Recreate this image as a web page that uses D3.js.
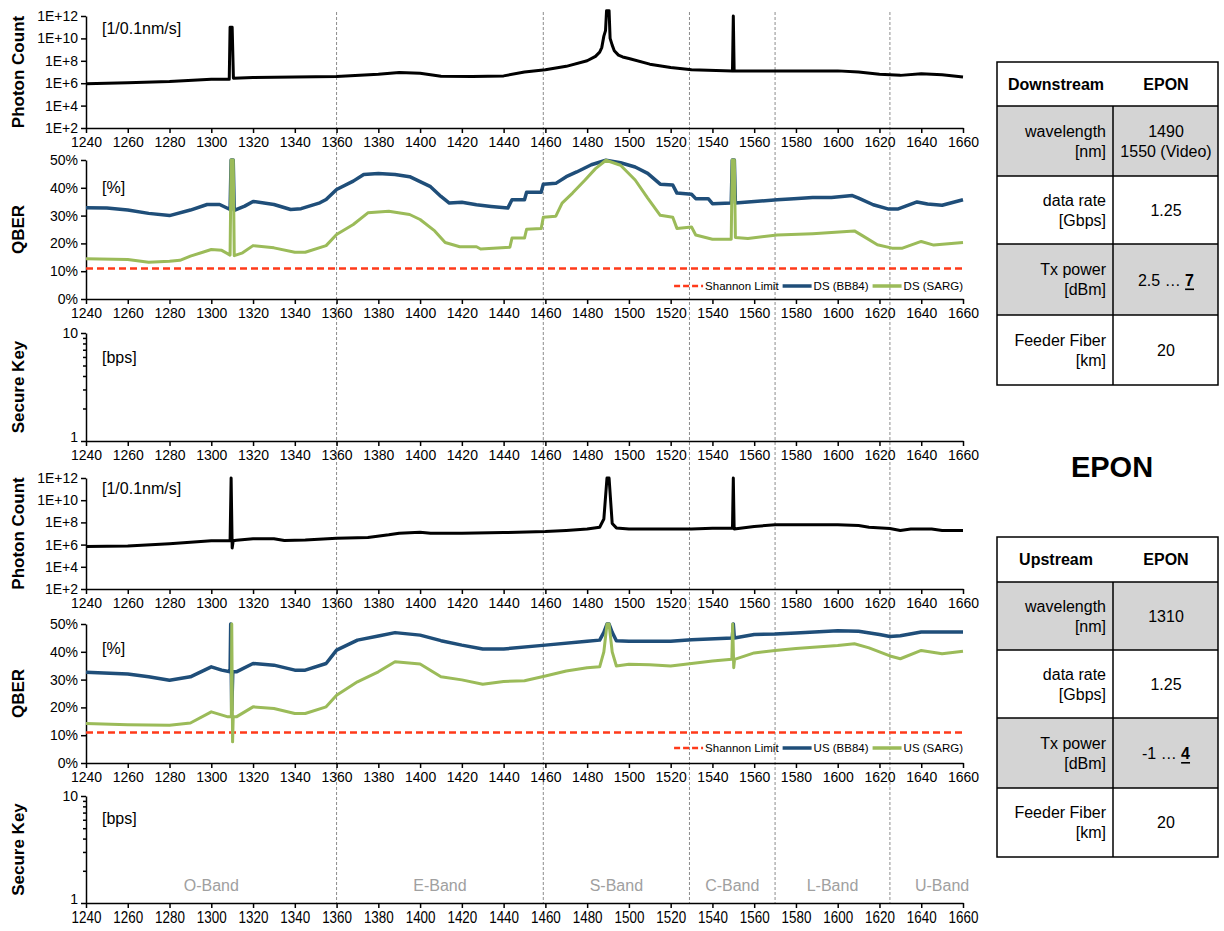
<!DOCTYPE html>
<html>
<head>
<meta charset="utf-8">
<script src="https://cdn.jsdelivr.net/npm/d3@7"></script>
<style>
  body { margin: 0; background: #fff; }
  svg text { font-family: "Liberation Sans", Arial, sans-serif; }
  .axis path, .axis line { stroke: #000; stroke-width: 1.5; }
  .axis text { font-size: 14px; fill: #000; }
</style>
</head>
<body>
<div id="chart"></div>
<script>
// wavelength axis, bands
var wlTicks = d3.range(1240, 1661, 20);
var bandEdges = [1240, 1360, 1459, 1529, 1570, 1625, 1675];
var bandNames = ["O-Band", "E-Band", "S-Band", "C-Band", "L-Band", "U-Band"];
var bandLines = [1360, 1459, 1529, 1570, 1625];
var shannonLimit = 11;

// photon count, downstream [wavelength, count]
var dsPhoton = [[1240, 9.1e5], [1260, 1.1e6], [1280, 1.4e6], [1300, 2.2e6], [1308.6, 2.2e6], [1309, 1e11],
  [1310, 1e11], [1310.6, 2.8e6], [1320, 3.2e6], [1340, 3.5e6], [1360, 4e6], [1380, 6.3e6], [1390, 8.9e6],
  [1400, 7.9e6], [1410, 4.2e6], [1425, 4e6], [1440, 4.5e6], [1450, 1e7], [1460, 1.6e7], [1470, 3.2e7],
  [1480, 1e8], [1484, 2.5e8], [1486, 6e8], [1487, 1.5e9], [1488, 1.6e10], [1488.8, 5e10], [1489.3, 3e12],
  [1490.5, 3e12], [1491, 1e10], [1492, 2.5e9], [1493, 8e8], [1495, 3.2e8], [1497, 2.2e8],
  [1500, 1.6e8], [1510, 5e7], [1520, 2.5e7], [1530, 1.6e7], [1549.6, 1.26e7], [1550, 1e12], [1550.4, 1.26e7],
  [1600, 1.26e7], [1610, 1e7], [1620, 6.3e6], [1630, 5e6], [1640, 7e6], [1650, 5.6e6], [1660, 3.5e6]];

// photon count, upstream
var usPhoton = [[1240, 6.8e5], [1260, 7.6e5], [1280, 1.2e6], [1300, 2.2e6], [1309, 2.2e6], [1309.5, 1e12],
  [1310, 5e5], [1310.5, 2.2e6], [1312, 2.5e6], [1320, 3.3e6], [1330, 3.3e6], [1335, 2.3e6], [1345, 2.6e6],
  [1360, 3.8e6], [1375, 4.4e6], [1385, 7.6e6], [1390, 1.07e7], [1400, 1.3e7], [1405, 1.07e7], [1420, 1.07e7],
  [1440, 1.2e7], [1460, 1.5e7], [1470, 1.9e7], [1480, 2.5e7], [1486, 3.7e7], [1488, 2e8], [1489.5, 1e12],
  [1490.5, 1e12], [1492, 8e7], [1494, 3.2e7], [1500, 2.5e7], [1530, 2.6e7], [1540, 3e7], [1549.6, 3e7],
  [1550, 1e12], [1550.4, 2.5e7], [1560, 4.3e7], [1570, 6e7], [1600, 6e7], [1610, 5.2e7], [1615, 3.7e7],
  [1625, 2.8e7], [1630, 1.9e7], [1635, 2.5e7], [1645, 2.5e7], [1650, 1.9e7], [1660, 1.9e7]];

// QBER downstream [wavelength, %]
var dsBB84 = [[1240, 32.8], [1250, 32.7], [1260, 32.0], [1270, 30.8], [1280, 30.0], [1290, 32.0], [1298, 34.0],
  [1304, 34.0], [1309, 32.2], [1309.5, 50], [1310.5, 50], [1311, 31.9], [1316, 33.4], [1320, 35.1], [1330, 34.0],
  [1338, 32.2], [1343, 32.5], [1352, 34.6], [1355, 35.8], [1360, 39.4], [1368, 42.4], [1373, 44.8], [1380, 45.1],
  [1388, 44.8], [1395, 44.0], [1400, 42.2], [1405, 40.4], [1410, 36.9], [1414, 34.5], [1420, 34.8], [1427, 33.9],
  [1434, 33.3], [1442, 32.7], [1444, 35.7], [1450, 35.7], [1451, 38.4], [1458, 38.4], [1459, 41.3], [1465, 41.6],
  [1470, 44.0], [1475, 45.7], [1482, 48.3], [1489, 49.9], [1496, 49.0], [1503, 47.5], [1509, 45.2], [1515, 41.3],
  [1521, 41.0], [1523, 38.1], [1530, 37.7], [1532, 36.1], [1538, 36.1], [1540, 34.3], [1549, 34.5], [1549.5, 50],
  [1550.5, 50], [1551, 34.5], [1557, 34.9], [1571, 35.7], [1579, 36.1], [1588, 36.5], [1597, 36.5], [1607, 37.2],
  [1610, 36.3], [1617, 33.9], [1624, 32.4], [1629, 32.4], [1638, 34.9], [1643, 34.2], [1650, 33.7], [1660, 35.7]];

var dsSARG = [[1240, 14.5], [1260, 14.2], [1270, 13.2], [1280, 13.6], [1285, 13.9], [1290, 15.4], [1300, 17.8],
  [1305, 17.5], [1309, 15.8], [1309.5, 50], [1310.5, 50], [1311, 15.6], [1315, 16.6], [1320, 19.2], [1330, 18.4],
  [1340, 16.8], [1345, 16.8], [1355, 19.2], [1360, 23.2], [1368, 26.8], [1375, 31.0], [1385, 31.6], [1395, 30.4],
  [1400, 28.6], [1407, 24.5], [1412, 20.3], [1419, 18.8], [1427, 18.8], [1429, 18.0], [1443, 18.6], [1444, 21.9],
  [1450, 21.9], [1451, 25.1], [1458, 25.4], [1459, 29.4], [1465, 29.8], [1468, 34.5], [1473, 38.1], [1479, 42.8],
  [1484, 46.9], [1489, 49.9], [1496, 48.1], [1503, 42.8], [1509, 36.3], [1515, 30.1], [1521, 29.4], [1523, 25.4],
  [1530, 25.9], [1532, 23.0], [1540, 21.5], [1549, 21.5], [1549.5, 50], [1550.5, 50], [1551, 22.1], [1557, 21.8],
  [1571, 23.0], [1588, 23.5], [1597, 23.9], [1608, 24.5], [1612, 22.7], [1619, 19.5], [1626, 18.3], [1631, 18.3],
  [1640, 20.7], [1646, 19.4], [1660, 20.3]];

// QBER upstream
var usBB84 = [[1240, 32.6], [1260, 32.0], [1270, 31.0], [1280, 29.8], [1290, 31.0], [1300, 34.6], [1305, 33.4],
  [1309, 32.8], [1309.3, 50], [1309.8, 19], [1310.3, 32.8], [1312, 32.8], [1320, 35.8], [1330, 35.2], [1340, 33.4],
  [1345, 33.4], [1355, 35.8], [1360, 40.6], [1370, 44.2], [1380, 45.7], [1388, 46.9], [1400, 46.0], [1410, 44.0],
  [1420, 42.4], [1430, 41.0], [1440, 41.0], [1460, 42.4], [1480, 43.8], [1486, 44.2], [1488, 47], [1489.5, 50],
  [1490.5, 50], [1492, 47], [1494, 44], [1500, 43.8], [1520, 43.8], [1530, 44.3], [1549.5, 45], [1550, 50],
  [1550.5, 45], [1560, 46.2], [1570, 46.4], [1580, 46.8], [1600, 47.6], [1610, 47.4], [1620, 46.2], [1625, 45.5],
  [1630, 45.8], [1640, 47.1], [1660, 47.1]];

var usSARG = [[1240, 14.2], [1260, 13.8], [1280, 13.6], [1290, 14.4], [1300, 18.4], [1308, 16.6], [1309.6, 16.6],
  [1309.8, 50], [1310.2, 7.6], [1310.5, 16.6], [1312, 16.6], [1320, 20.2], [1330, 19.6], [1340, 17.8], [1345, 17.8],
  [1355, 20.2], [1360, 24.4], [1370, 29.2], [1380, 32.8], [1388, 36.4], [1400, 35.6], [1410, 31.0], [1420, 29.9],
  [1430, 28.3], [1440, 29.3], [1450, 29.6], [1460, 31.3], [1470, 33.1], [1480, 34.3], [1486, 34.6], [1488, 40],
  [1489.5, 50], [1490.5, 50], [1492, 40], [1494, 34.9], [1500, 35.5], [1510, 35.3], [1520, 34.9], [1540, 36.7],
  [1549.3, 37.3], [1549.7, 50], [1550.2, 34.3], [1550.6, 37.3], [1560, 39.6], [1570, 40.5], [1580, 41.2],
  [1600, 42.3], [1608, 42.9], [1615, 41.4], [1625, 38.5], [1630, 37.5], [1640, 40.5], [1650, 39.3], [1660, 40.2]];

var dsLegend = ["Shannon Limit", "DS (BB84)", "DS (SARG)"];
var usLegend = ["Shannon Limit", "US (BB84)", "US (SARG)"];

// tables
var rowLabels = [["wavelength", "[nm]"], ["data rate", "[Gbps]"], ["Tx power", "[dBm]"], ["Feeder Fiber", "[km]"]];
var dsValues = [["1490", "1550 (Video)"], ["1.25"], ["2.5 … ", "7"], ["20"]];
var usValues = [["1310"], ["1.25"], ["-1 … ", "4"], ["20"]];

var colors = {bb84: "#1f4e79", sarg: "#9bbb59", shannon: "#ff3a1a"};

var svg = d3.select("#chart").append("svg")
  .attr("width", 1224)
  .attr("height", 931);

var x = d3.scaleLinear().domain([1240, 1660]).range([86, 963]);

var panels = [
  {top: 16, bottom: 128, type: "photon", title: "Photon Count", unit: "[1/0.1nm/s]", unitY: 34, data: dsPhoton},
  {top: 160, bottom: 299, type: "qber", title: "QBER", unit: "[%]", unitY: 193, bb84: dsBB84, sarg: dsSARG, legend: dsLegend, legendY: 286},
  {top: 333, bottom: 441, type: "key", title: "Secure Key", unit: "[bps]", unitY: 363},
  {top: 478, bottom: 589, type: "photon", title: "Photon Count", unit: "[1/0.1nm/s]", unitY: 494, data: usPhoton},
  {top: 624, bottom: 763, type: "qber", title: "QBER", unit: "[%]", unitY: 654, bb84: usBB84, sarg: usSARG, legend: usLegend, legendY: 748},
  {top: 796, bottom: 903, type: "key", title: "Secure Key", unit: "[bps]", unitY: 824, last: true}
];

// band separators across all panels
svg.selectAll(".bandline")
  .data(bandLines)
  .enter().append("line")
  .attr("x1", d => x(d)).attr("x2", d => x(d))
  .attr("y1", 12).attr("y2", 903)
  .attr("stroke", "#8c8c8c")
  .attr("stroke-width", 1)
  .attr("stroke-dasharray", "3,2");

panels.forEach(function(p) {
  var g = svg.append("g");
  var y, yAxis;
  if (p.type == "photon") {
    y = d3.scaleLog().domain([1e2, 1e12]).range([p.bottom, p.top]);
    yAxis = d3.axisLeft(y).tickValues([1e2, 1e4, 1e6, 1e8, 1e10, 1e12])
      .tickFormat(d => "1E+" + Math.round(Math.log10(d)));
  } else if (p.type == "qber") {
    y = d3.scaleLinear().domain([0, 50]).range([p.bottom, p.top]);
    yAxis = d3.axisLeft(y).tickValues(d3.range(0, 51, 10)).tickFormat(d => d + "%");
  } else {
    y = d3.scaleLog().domain([1, 10]).range([p.bottom, p.top]);
    yAxis = d3.axisLeft(y).tickValues([1, 10]).tickFormat(d3.format("d"));
  }

  var xg = g.append("g").attr("class", "axis")
    .attr("transform", `translate(0, ${p.bottom})`)
    .call(d3.axisBottom(x).tickValues(wlTicks).tickSize(5).tickPadding(4).tickSizeOuter(0).tickFormat(d3.format("d")));
  if (p.last) {
    // bottom axis labels look narrower and taller
    xg.selectAll("text").style("font-size", "16px").attr("transform", "scale(0.84,1)");
  }

  var yg = g.append("g").attr("class", "axis")
    .attr("transform", `translate(${x.range()[0]}, 0)`)
    .call(yAxis.tickSize(5).tickSizeOuter(0));

  if (p.type == "key") {
    // keep the "1" clear of the first wavelength label
    yg.selectAll(".tick text").filter(d => d == 1).attr("dy", "0.05em");
    g.append("g").attr("class", "axis")
      .attr("transform", `translate(${x.range()[0]}, 0)`)
      .call(d3.axisLeft(y).tickValues(d3.range(2, 10)).tickSize(3).tickFormat(""))
      .select(".domain").remove();
  }

  // axis title
  g.append("text")
    .attr("transform", `translate(18, ${(p.top + p.bottom) / 2}) rotate(-90)`)
    .attr("text-anchor", "middle")
    .attr("dominant-baseline", "central")
    .style("font-size", "17px")
    .style("font-weight", "bold")
    .text(p.title);

  g.append("text")
    .attr("x", 102).attr("y", p.unitY)
    .style("font-size", "16px")
    .text(p.unit);

  if (p.type == "photon") {
    g.append("path")
      .datum(p.data)
      .attr("fill", "none")
      .attr("stroke", "#000")
      .attr("stroke-width", 3)
      .attr("stroke-linejoin", "round")
      .attr("d", d3.line().x(d => x(d[0])).y(d => y(d[1])));
  }

  if (p.type == "qber") {
    g.append("line")
      .attr("x1", x(1240)).attr("x2", x(1660))
      .attr("y1", y(shannonLimit)).attr("y2", y(shannonLimit))
      .attr("stroke", colors.shannon)
      .attr("stroke-width", 2.5)
      .attr("stroke-dasharray", "7,4");

    var line = d3.line().x(d => x(d[0])).y(d => y(d[1]));
    g.append("path").datum(p.bb84)
      .attr("fill", "none").attr("stroke", colors.bb84)
      .attr("stroke-width", 3.5).attr("stroke-linejoin", "round")
      .attr("d", line);
    g.append("path").datum(p.sarg)
      .attr("fill", "none").attr("stroke", colors.sarg)
      .attr("stroke-width", 3).attr("stroke-linejoin", "round")
      .attr("d", line);

    // legend, laid out from the right edge
    var legendColors = [colors.shannon, colors.bb84, colors.sarg];
    var right = x(1660);
    for (var i = 2; i >= 0; i--) {
      var t = g.append("text")
        .attr("y", p.legendY)
        .attr("dominant-baseline", "central")
        .style("font-size", "11.5px")
        .text(p.legend[i]);
      var w = t.node().getComputedTextLength();
      var tx = right - w;
      t.attr("x", tx);
      g.append("line")
        .attr("x1", tx - 31).attr("x2", tx - 2)
        .attr("y1", p.legendY).attr("y2", p.legendY)
        .attr("stroke", legendColors[i])
        .attr("stroke-width", i == 0 ? 2.5 : 3.5)
        .attr("stroke-dasharray", i == 0 ? "6,3" : null);
      right = tx - 35;
    }
  }
});

// band names in the last panel
svg.selectAll(".bandname")
  .data(bandNames)
  .enter().append("text")
  .attr("x", (d, i) => x((bandEdges[i] + bandEdges[i + 1]) / 2))
  .attr("y", 891)
  .attr("text-anchor", "middle")
  .style("font-size", "16px")
  .attr("fill", "#a0a0a0")
  .text(d => d);

// tables
function drawTable(header, rowTops, values) {
  var x0 = 997, x1 = 1218, xs = 1113;
  var t = svg.append("g");
  for (var r = 0; r < 4; r++) {
    t.append("rect")
      .attr("x", x0).attr("y", rowTops[r + 1])
      .attr("width", x1 - x0).attr("height", rowTops[r + 2] - rowTops[r + 1])
      .attr("fill", r % 2 == 0 ? "#d4d4d4" : "#fff");
  }
  t.append("rect")
    .attr("x", x0).attr("y", rowTops[0])
    .attr("width", x1 - x0).attr("height", rowTops[5] - rowTops[0])
    .attr("fill", "none").attr("stroke", "#000").attr("stroke-width", 1.5);
  rowTops.slice(1, 5).forEach(function(yy) {
    t.append("line").attr("x1", x0).attr("x2", x1).attr("y1", yy).attr("y2", yy)
      .attr("stroke", "#000").attr("stroke-width", 1.5);
  });
  t.append("line").attr("x1", xs).attr("x2", xs).attr("y1", rowTops[1]).attr("y2", rowTops[5])
    .attr("stroke", "#000").attr("stroke-width", 1.5);

  var hy = (rowTops[0] + rowTops[1]) / 2;
  t.append("text").attr("x", 1056).attr("y", hy).attr("text-anchor", "middle")
    .attr("dominant-baseline", "central").style("font-size", "16px").style("font-weight", "bold").text(header);
  t.append("text").attr("x", 1166).attr("y", hy).attr("text-anchor", "middle")
    .attr("dominant-baseline", "central").style("font-size", "16px").style("font-weight", "bold").text("EPON");

  for (var r = 0; r < 4; r++) {
    var cy = (rowTops[r + 1] + rowTops[r + 2]) / 2;
    rowLabels[r].forEach(function(s, k) {
      t.append("text").attr("x", 1106).attr("y", cy + (k == 0 ? -10 : 10))
        .attr("text-anchor", "end").attr("dominant-baseline", "central")
        .style("font-size", "16px").text(s);
    });
    var v = values[r];
    if (r == 2) {
      var vt = t.append("text").attr("x", 1166).attr("y", cy)
        .attr("text-anchor", "middle").attr("dominant-baseline", "central").style("font-size", "16px");
      vt.append("tspan").text(v[0]);
      vt.append("tspan").style("font-weight", "bold").style("text-decoration", "underline").text(v[1]);
    } else {
      v.forEach(function(s, k) {
        var off = v.length == 1 ? 0 : (k == 0 ? -10 : 10);
        t.append("text").attr("x", 1166).attr("y", cy + off)
          .attr("text-anchor", "middle").attr("dominant-baseline", "central")
          .style("font-size", "16px").text(s);
      });
    }
  }
}

drawTable("Downstream", [62, 106, 176, 244, 315, 385], dsValues);
drawTable("Upstream", [537, 582, 650, 718, 788, 857], usValues);

svg.append("text")
  .attr("x", 1112).attr("y", 467)
  .attr("text-anchor", "middle")
  .attr("dominant-baseline", "central")
  .style("font-size", "29px")
  .style("font-weight", "bold")
  .text("EPON");
</script>
</body>
</html>
